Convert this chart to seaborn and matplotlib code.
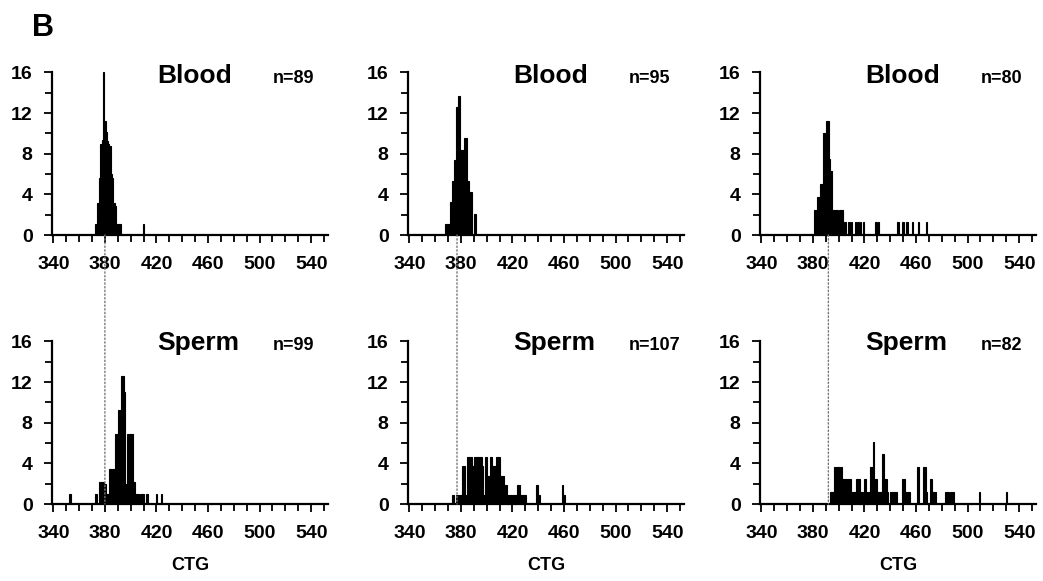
import seaborn as sns
import matplotlib.pyplot as plt
from matplotlib.patches import ConnectionPatch
from matplotlib.ticker import MultipleLocator

# CTG repeat length -> % of molecules
blood1_ctg = [373, 374, 375, 376, 377, 378, 379, 380, 381, 382, 383, 384, 385, 386,
              387, 388, 389, 390, 391, 392, 410]
blood1_pct = [1.1, 3.1, 3.1, 5.6, 9.0, 9.3, 16.0, 11.2, 10.1, 9.2, 9.0, 8.8, 6.0, 5.6,
              3.1, 2.9, 1.1, 1.1, 1.1, 1.1, 1.1]

blood2_ctg = [368, 369, 370, 371, 372, 373, 374, 375, 376, 377, 378, 379, 380, 381,
              382, 383, 384, 385, 386, 387, 388, 391]
blood2_pct = [1.05, 1.05, 1.05, 1.05, 3.2, 3.2, 5.3, 7.4, 7.4, 12.6, 13.7, 13.7, 8.4, 8.4,
              8.4, 9.5, 9.5, 5.3, 5.3, 4.2, 4.2, 2.1]

blood3_ctg = [381, 382, 383, 384, 385, 386, 387, 388, 389, 390, 391, 392, 393, 394,
              395, 396, 397, 398, 399, 400, 401, 402, 403, 404, 405,
              408, 410, 413, 415, 417, 419, 429, 431, 446, 450, 453, 457, 462, 468]
blood3_pct = [2.5, 2.5, 2.5, 3.75, 3.75, 5.0, 5.0, 10.0, 10.0, 10.0, 11.25, 11.25, 7.5, 6.25,
              2.5, 2.5, 2.5, 2.5, 2.5, 1.25, 2.5, 2.5, 2.5, 1.25, 1.25,
              1.25, 1.25, 1.25, 1.25, 1.25, 1.25, 1.25, 1.25, 1.25, 1.25, 1.25, 1.25, 1.25, 1.25]

sperm1_ctg = [353, 373, 376, 377, 378, 379, 380, 381, 382, 383, 384, 385, 386, 387,
              388, 389, 390, 391, 392, 393, 394, 395, 396, 397, 398, 399, 400, 401,
              402, 403, 404, 405, 406, 408, 409, 410, 412, 413, 420, 424]
sperm1_pct = [1.0, 1.0, 2.2, 2.2, 2.2, 2.2, 2.0, 1.0, 1.0, 1.0, 3.4, 3.4, 3.4, 3.4,
              6.9, 6.9, 6.9, 9.2, 9.2, 12.6, 12.6, 11.0, 2.0, 2.0, 6.9, 6.9, 6.9, 6.9,
              2.2, 2.2, 1.0, 1.0, 1.0, 1.0, 1.0, 1.0, 1.0, 1.0, 1.0, 1.0]

sperm2_ctg = [374, 377, 378, 379, 380, 381, 382, 383, 384, 385, 386, 387, 388, 389,
              390, 391, 392, 393, 394, 395, 396, 397, 398, 399, 400, 401, 402, 403,
              404, 405, 406, 407, 408, 409, 410, 411, 412, 413, 414, 415, 416,
              417, 418, 419, 420, 421, 422, 423, 424, 425, 426, 427, 428, 429, 430,
              439, 441, 459, 460]
sperm2_pct = [0.93, 0.93, 0.93, 0.93, 0.93, 3.74, 3.74, 3.74, 0.93, 4.67, 4.67, 4.67, 4.67, 3.74,
              3.74, 4.67, 4.67, 4.67, 4.67, 4.67, 4.67, 3.74, 0.93, 4.67, 4.67, 2.8, 2.8, 4.67,
              4.67, 3.74, 3.74, 3.74, 4.67, 4.67, 4.67, 2.8, 2.8, 2.8, 1.87, 1.87, 0.93,
              0.93, 0.93, 0.93, 0.93, 0.93, 0.93, 0.93, 1.87, 1.87, 0.93, 0.93, 0.93, 0.93, 0.93,
              1.87, 0.93, 1.87, 0.93]

sperm3_ctg = [394, 395, 396, 397, 398, 399, 400, 401, 402, 403, 404, 405, 406, 407,
              408, 409, 410, 411, 412, 413, 414, 415, 416, 417, 418, 420, 421, 422,
              423, 424, 425, 426, 427, 428, 429, 430, 431, 432, 433, 434, 435, 436,
              437, 438, 440, 441, 442, 443, 444, 445, 450, 451, 452, 453, 454, 455,
              461, 462, 466, 467, 468, 471, 472, 473, 474, 475,
              483, 484, 485, 487, 488, 489, 509, 530]
sperm3_pct = [1.22, 1.22, 1.22, 3.66, 3.66, 3.66, 3.66, 3.66, 3.66, 2.44, 2.44, 2.44, 2.44, 2.44,
              2.44, 2.44, 1.22, 1.22, 1.22, 1.22, 2.44, 2.44, 2.44, 1.22, 1.22, 2.44, 2.44, 1.22,
              1.22, 1.22, 3.66, 3.66, 6.1, 2.44, 2.44, 1.22, 1.22, 1.22, 1.22, 4.88, 4.88, 2.44,
              2.44, 1.22, 1.22, 1.22, 1.22, 1.22, 1.22, 1.22, 2.44, 2.44, 1.22, 1.22, 1.22, 1.22,
              3.66, 3.66, 3.66, 3.66, 1.22, 2.44, 2.44, 1.22, 1.22, 1.22,
              1.22, 1.22, 1.22, 1.22, 1.22, 1.22, 1.22, 1.22]

tissues = ["Blood", "Blood", "Blood", "Sperm", "Sperm", "Sperm"]
n_labels = ["n=89", "n=95", "n=80", "n=99", "n=107", "n=82"]
progenitor_ctg = [380, 377, 392]   # dotted line per column
x_ticks = [340, 380, 420, 460, 500, 540]
y_ticks = [0, 4, 8, 12, 16]

panels = [(blood1_ctg, blood1_pct), (blood2_ctg, blood2_pct), (blood3_ctg, blood3_pct),
          (sperm1_ctg, sperm1_pct), (sperm2_ctg, sperm2_pct), (sperm3_ctg, sperm3_pct)]

sns.set_style("ticks")
plt.rcParams["font.family"] = ["Liberation Sans", "DejaVu Sans"]
plt.rcParams["font.weight"] = "bold"
plt.rcParams["text.color"] = "black"
plt.rcParams["axes.labelcolor"] = "black"

fig = plt.figure(figsize=(10.43, 5.81), dpi=100)

lefts = [0.0499, 0.3912, 0.7287]
bottoms = [0.5955, 0.1325]
width, height = 0.2645, 0.280

axes = []
for i, (ctg, pct) in enumerate(panels):
    row, col = divmod(i, 3)
    ax = fig.add_axes([lefts[col], bottoms[row], width, height])
    sns.histplot(x=ctg, weights=pct, discrete=True, color="black", alpha=1,
                 edgecolor="black", linewidth=0.8, ax=ax)
    ax.set_xlim(339, 553)
    ax.set_ylim(0, 16)
    ax.set_xticks(x_ticks)
    ax.set_yticks(y_ticks)
    ax.xaxis.set_minor_locator(MultipleLocator(10))
    ax.yaxis.set_minor_locator(MultipleLocator(2))
    sns.despine(ax=ax)
    for side in ["left", "bottom"]:
        ax.spines[side].set_linewidth(1.6)
        ax.spines[side].set_color("black")
    ax.tick_params(which="both", direction="out", width=1.3, color="black",
                   labelsize=14, labelcolor="black")
    ax.tick_params(which="major", length=6)
    ax.tick_params(which="minor", length=5)
    ax.tick_params(axis="x", which="major", pad=9)
    ax.tick_params(axis="y", which="major", pad=8)
    ax.set_ylabel("")
    ax.set_xlabel("CTG" if row == 1 else "", fontsize=13, fontweight="bold", labelpad=11)
    ty = 0.935 if row == 0 else 0.945
    ax.text(0.38, ty, tissues[i], transform=ax.transAxes, fontsize=19,
            fontweight="bold", ha="left", va="baseline")
    ax.text(0.80, ty, n_labels[i], transform=ax.transAxes, fontsize=13,
            fontweight="bold", ha="left", va="baseline")
    axes.append(ax)

# dotted guide from blood mode down to the sperm panel
for col, x in enumerate(progenitor_ctg):
    con = ConnectionPatch(xyA=(x, 0), coordsA=axes[col].transData,
                          xyB=(x, 0), coordsB=axes[col + 3].transData,
                          linestyle=":", color="#777777", linewidth=1.0)
    fig.add_artist(con)

fig.text(0.041, 0.952, "B", fontsize=22, fontweight="heavy", ha="center", va="center")

fig.savefig("out.png", dpi=100)
